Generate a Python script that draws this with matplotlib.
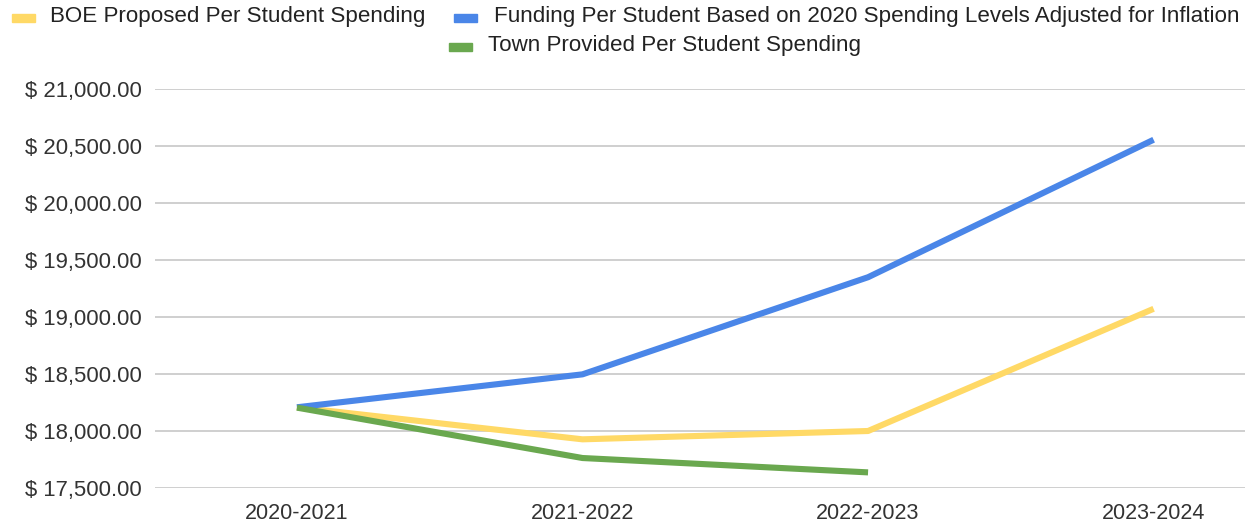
import matplotlib
matplotlib.use("Agg")
import matplotlib.pyplot as plt
from matplotlib.patches import Rectangle
from matplotlib.ticker import FuncFormatter

categories = ["2020-2021", "2021-2022", "2022-2023", "2023-2024"]
boe_proposed = [18208, 17927, 18000, 19072]
inflation_adjusted = [18208, 18497, 19349, 20555]
town_provided = [18205, 17763, 17637]

series_labels = [
    "BOE Proposed Per Student Spending",
    "Funding Per Student Based on 2020 Spending Levels Adjusted for Inflation",
    "Town Provided Per Student Spending",
]
colors = ["#ffd966", "#4a86e8", "#6aa84f"]
yticks = [17500, 18000, 18500, 19000, 19500, 20000, 20500, 21000]

W, H = 1248, 522
plt.rcParams["font.family"] = ["Liberation Sans", "DejaVu Sans"]
fig = plt.figure(figsize=(W / 100, H / 100), dpi=100)
ax = fig.add_axes([155 / W, 1 - 488 / H, (1245 - 155) / W, (488 - 89) / H])

x = list(range(len(categories)))
data = [boe_proposed, inflation_adjusted, town_provided]
for vals, col, lab in zip(data, colors, series_labels):
    ax.plot(x[:len(vals)], vals, color=col, lw=4.4, solid_capstyle="butt",
            solid_joinstyle="round", label=lab, clip_on=False, zorder=3)

ax.set_ylim(17500, 21000)
ax.set_yticks(yticks)
ax.yaxis.set_major_formatter(FuncFormatter(lambda v, p: f"$ {v:,.2f}"))
ax.set_xticks(x)
ax.set_xticklabels(categories)
ax.set_xlim(-0.497, 3.32)
ax.grid(axis="y", color="#cccccc", lw=1.3)
ax.set_axisbelow(True)
for s in ax.spines.values():
    s.set_visible(False)
ax.tick_params(axis="both", length=0, colors="#333333")
ax.tick_params(axis="y", pad=9.5, labelsize=15.9)
ax.tick_params(axis="x", pad=11, labelsize=15.5)

# legend (Google Sheets style)
leg_items = [
    (12, 14, 50, 16.5),
    (454, 14, 494, 16.5),
    (449, 43, 488, 45.5),
]
for (mx, my, tx, ty), col, lab in zip(leg_items, colors, series_labels):
    fig.patches.append(Rectangle((mx / W, 1 - (my + 8) / H), 23 / W, 8 / H,
                                 transform=fig.transFigure, color=col))
    fig.text(tx / W, 1 - ty / H, lab, fontsize=16.15, color="#222222",
             ha="left", va="center")

fig.savefig("out.png", dpi=100)
